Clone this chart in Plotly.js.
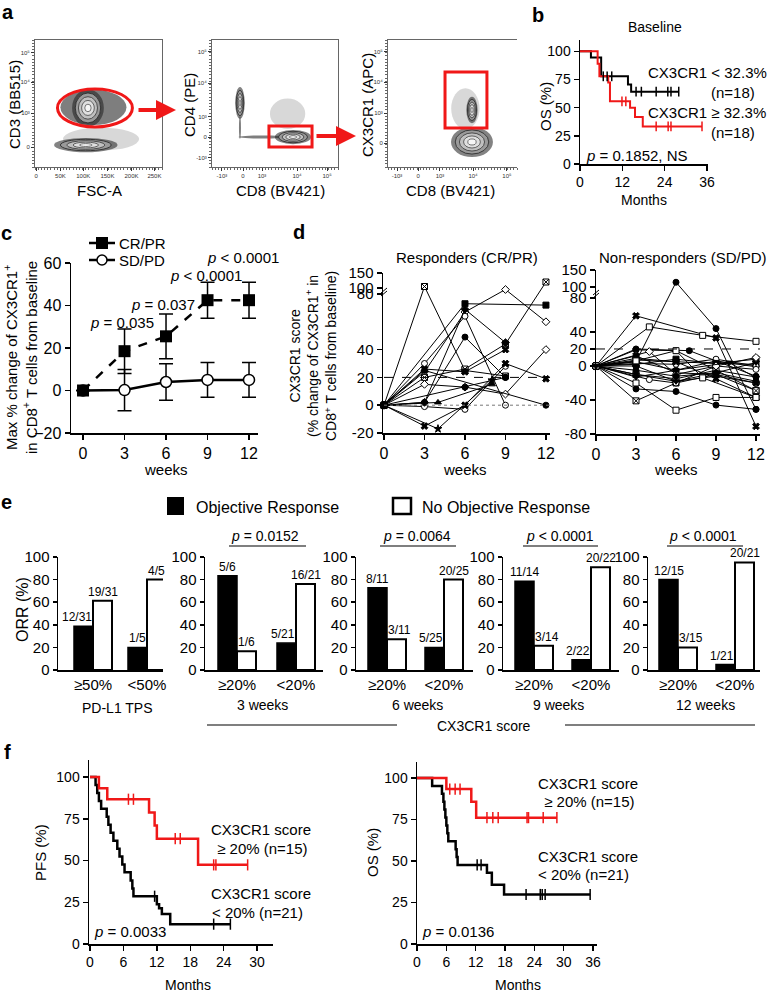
<!DOCTYPE html>
<html><head><meta charset="utf-8">
<script src="https://cdn.plot.ly/plotly-3.0.1.min.js"></script>
<style>html,body{margin:0;padding:0;background:#fff}#chart{width:770px;height:992px}</style>
</head><body><div id="chart"></div>
<script>
const W=770,H=992;
const FONT='Liberation Sans, Arial, sans-serif';
const RED='#f01818';

// ===== Panel b data (OS by baseline CX3CR1) =====
const bLowT=[0,3.1,6.0,13.6,14.5,28.0];
const bLowS=[100,94.4,77.8,70.6,64.2,64.2];
const bLowCensT=[6.6,7.7,9.0,15.9,17.4,21.6,24.9,25.8,28.0];
const bLowCensS=[77.8,77.8,77.8,64.2,64.2,64.2,64.2,64.2,64.2];
const bHighT=[0,5.0,5.5,8.0,8.5,14.2,15.6,17.8,34.6];
const bHighS=[100,88.9,77.8,72.2,55.6,50.0,41.7,33.3,33.3];
const bHighCensT=[11.9,13.0,21.6,25.0,25.8,34.6];
const bHighCensS=[55.6,55.6,33.3,33.3,33.3,33.3];

// ===== Panel c data =====
const cWeeks=[0,3,6,9,12];
const crMean=[0,18.5,25.5,42.5,42.5];
const crErr=[0,10.5,10.5,8.5,8.5];
const sdMean=[0,0.2,4,5,5];
const sdErr=[0,9.7,8.6,8.2,8.2];

// ===== Panel d data (CX3CR1 score per patient) =====
const respX=[[0,3,6,9],[0,6,12],[0,3,6,9,12],[0,3,6,9],[0,3,6,9],[0,3,6,9,12],[0,3,6,9],[0,3,6,9,12],[0,3,12],[0,4,8],[0,3,6,9],[0,3,6,9,12],[0,4,8],[0,3,6,9],[0,6,9]];
const respY=[[0,105,25,21],[0,73,72],[0,24,67,95,60],[0,30,64,0],[0,2,49,20],[0,20,26,44,120],[0,26,24,40],[0,15,13,8,40],[0,25,0],[0,2,15],[0,-1,-3,28],[0,-15,0,30,19],[0,-17,18],[0,2,69,45],[0,13,20]];
const respSym=['square-x','square','diamond','circle','circle','square-x','x','diamond','circle','triangle-up','circle','x','star','diamond','circle'];
const respFill=['w','k','w','w','k','w','k','w','k','k','w','k','k','k','k'];
const nonX=[[0,3,9,12],[0,4,8,12],[0,3,6,9,12],[0,3,6,9,12],[0,3,6,9,12],[0,3,6,9,12],[0,3,6,9,12],[0,3,6,9,12],[0,3,6,9,12],[0,3,6,9,12],[0,3,6,9,12],[0,3,6,9,12],[0,4,6,9,12],[0,3,6,9,12],[0,3,6,9,12],[0,3,7,12],[0,3,6,9,12],[0,3,6,9,12],[0,4,6,9,12],[0,3,6,9,12],[0,3,6,8,12],[0,3,6,10,12]];
const nonY=[[0,59,33,-71],[0,46,36,29],[0,5,114,44,-51],[0,-41,-20,-10,-29],[0,-27,-30,-46,-51],[0,-20,-52,-37,-37],[0,19,18,-5,-13],[0,9,5,3,2],[0,5,-5,6,-1],[0,0,-18,-12,-20],[0,-10,-15,-5,-29],[0,3,2,8,0],[0,-16,-20,0,-4],[0,12,-8,-10,-20],[0,-10,-18,-8,4],[0,20,18,-12],[0,7,5,-15,-37],[0,2,8,3,8],[0,17,-10,0,10],[0,-5,-12,-8,-18],[0,6,18,-14,-37],[0,-13,-5,4,-14]];
const nonSym=['x','square','circle','square-x','circle','square','circle','square','circle','diamond','square-x','circle','circle','x','triangle-down','circle','x','square','diamond','circle','square','triangle-down'];
const nonFill=['k','w','k','w','k','w','w','k','k','w','w','w','w','k','k','k','k','k','w','k','w','k'];
const dLeftTicks=[-20,0,20,40,80,100,150];
const dRightTicks=[-80,-40,0,20,40,80,100,150];

// ===== Panel e data (ORR) =====
const eGroups=['PD-L1 TPS','3 weeks','6 weeks','9 weeks','12 weeks'];
const eCatsTPS=['≥50%','<50%'];
const eCatsScore=['≥20%','<20%'];
const orNum=[[12,1],[5,5],[8,5],[11,2],[12,1]];
const noOrNum=[[19,4],[1,16],[3,20],[3,20],[3,20]];
const eDen=[[31,5],[6,21],[11,25],[14,22],[15,21]];
const ePvals=[null,'<i>p</i> = 0.0152','<i>p</i> = 0.0064','<i>p</i> < 0.0001','<i>p</i> < 0.0001'];

// ===== Panel f data =====
const pfsHighT=[0,1.6,3.1,10.6,11.6,12.0,19.4,28.3];
const pfsHighS=[100,93.3,86.7,78.8,71.0,63.1,47.4,47.4];
const pfsHighCensT=[6.9,7.8,15.3,16.2,22.2,22.6,28.3];
const pfsHighCensS=[86.7,86.7,63.1,63.1,47.4,47.4,47.4];
const pfsLowT=[0,1.0,1.3,1.6,2.0,3.0,3.3,3.7,4.2,4.9,5.3,5.8,6.2,7.3,7.6,7.8,12.0,12.4,12.9,14.4,25.2];
const pfsLowS=[100,95.2,90.5,85.7,81.0,76.2,71.4,66.7,61.9,57.1,52.4,47.6,42.9,38.1,33.3,28.6,23.8,21.4,17.9,11.9,11.9];
const pfsLowCensT=[11.6,22.2,25.2];
const pfsLowCensS=[28.6,11.9,11.9];
const osHighT=[0,6.0,11.1,12.1,28.6];
const osHighS=[100,93.3,85.6,76.1,76.1];
const osHighCensT=[6.7,7.8,8.8,14.3,15.5,16.6,22.5,22.8,25.8,28.6];
const osHighCensS=[93.3,93.3,93.3,76.1,76.1,76.1,76.1,76.1,76.1,76.1];
const osLowT=[0,3.1,5.1,5.4,5.6,5.8,6.0,6.2,6.4,7.9,8.1,8.3,14.3,15.3,17.8,35.4];
const osLowS=[100,95.2,90.5,85.7,81.0,76.2,71.4,66.7,61.9,57.1,52.4,47.6,42.9,35.7,29.8,29.8];
const osLowCensT=[12.3,13.1,22.3,25.2,25.6,26.2,35.4];
const osLowCensS=[47.6,47.6,29.8,29.8,29.8,29.8,29.8];

// ===== helpers =====
const ann=[],shp=[],traces=[];
function T(text,px,py,size,xa,extra){ann.push(Object.assign({text:text,x:px/W,y:1-py/H,xref:'paper',yref:'paper',showarrow:false,xanchor:xa||'center',yanchor:'middle',borderpad:0,font:{family:FONT,size:size||14,color:'#000'}},extra||{}));}
function L(x0,y0,x1,y1,color,width,dash){shp.push({type:'line',xref:'paper',yref:'paper',x0:x0/W,y0:1-y0/H,x1:x1/W,y1:1-y1/H,line:{color:color||'#000',width:width||1.5,dash:dash||'solid'}});}
function R(x0,y0,x1,y1,fill,lc,lw){shp.push({type:'rect',xref:'paper',yref:'paper',x0:x0/W,y0:1-y0/H,x1:x1/W,y1:1-y1/H,fillcolor:fill,line:{color:lc||fill,width:lw||0}});}
function C(cx,cy,r,fill,lc,lw){shp.push({type:'circle',xref:'paper',yref:'paper',x0:(cx-r)/W,x1:(cx+r)/W,y0:1-(cy+r)/H,y1:1-(cy-r)/H,fillcolor:fill,line:{color:lc,width:lw}});}
const layout={width:W,height:H,margin:{l:0,r:0,t:0,b:0},paper_bgcolor:'#fff',plot_bgcolor:'rgba(0,0,0,0)',showlegend:false,barmode:'overlay',font:{family:FONT,size:14,color:'#000'},annotations:ann,shapes:shp};
function base(fs){return {showline:true,linecolor:'#000',linewidth:1.5,ticks:'outside',ticklen:5,tickwidth:1.5,tickcolor:'#000',showgrid:false,zeroline:false,fixedrange:true,tickfont:{family:FONT,size:fs||14,color:'#000'}};}
function setAx(n,xd,yd,xr,yr,xe,ye,fs){const s=n===1?'':String(n);
  layout['xaxis'+s]=Object.assign(base(fs),{domain:[xd[0]/W,xd[1]/W],range:xr,anchor:'y'+s},xe||{});
  layout['yaxis'+s]=Object.assign(base(fs),{domain:[1-yd[1]/H,1-yd[0]/H],range:yr,anchor:'x'+s},ye||{});
  return s;}
function xa(s){return 'x'+s;} function ya(s){return 'y'+s;}
function censor(x,y,color,size,s){return {type:'scatter',x:x,y:y,mode:'markers',marker:{symbol:'line-ns-open',size:size,color:color,line:{color:color,width:1.5}},xaxis:xa(s),yaxis:ya(s),cliponaxis:false};}
function km(x,y,color,width,s){return {type:'scatter',x:x,y:y,mode:'lines',line:{shape:'hv',color:color,width:width},xaxis:xa(s),yaxis:ya(s),cliponaxis:false};}

// ===== Panel a: flow cytometry frames =====
const flowFrames=[[35,162],[212,338],[388,517]];
const flowXTicks=[[['0','50K','100K','150K','200K','250K'],[0.01,0.2,0.38,0.57,0.76,0.94]],[['-10³','0','10³','10⁴','10⁵'],[0.079,0.246,0.397,0.675,0.913]],[['-10³','0','10³','10⁴','10⁵'],[0.07,0.233,0.403,0.659,0.922]]];
const flowYTicks=[[['0','10³','10⁴','10⁵'],[0.157,0.425,0.669,0.898]],[['-10³','0','10³','10⁴','10⁵'],[0.071,0.236,0.394,0.661,0.906]],[['0','10³','10⁴','10⁵'],[0.189,0.425,0.669,0.906]]];
for(let i=0;i<3;i++){
  const s=setAx(i+1,flowFrames[i],[40,167],[0,1],[0,1],
    {mirror:true,linecolor:'#666',linewidth:1,ticklen:3,tickwidth:1,tickcolor:'#333',tickmode:'array',ticktext:flowXTicks[i][0],tickvals:flowXTicks[i][1],tickfont:{family:FONT,size:6,color:'#333'},minor:{ticks:'outside',ticklen:2,tickcolor:'#666',dtick:0.025,tick0:0}},
    {mirror:i<2,linecolor:'#666',linewidth:1,ticklen:3,tickwidth:1,tickcolor:'#333',tickmode:'array',ticktext:flowYTicks[i][0],tickvals:flowYTicks[i][1],tickfont:{family:FONT,size:6,color:'#333'},minor:{ticks:'outside',ticklen:2,tickcolor:'#666',dtick:0.025,tick0:0}});
  traces.push({type:'scatter',x:[null],y:[null],xaxis:xa(s),yaxis:ya(s),mode:'markers',hoverinfo:'skip'});
}
// population sketches [plot, cx, cy, rx, ry, kind]
const flowPops=[[1,0.46,0.47,0.26,0.14,'cloud'],[1,0.52,0.22,0.30,0.09,'haze'],[1,0.417,0.465,0.10,0.118,'rings'],[1,0.40,0.173,0.20,0.045,'rings'],
 [2,0.60,0.42,0.14,0.12,'haze'],[2,0.222,0.504,0.03,0.10,'rings'],[2,0.40,0.236,0.19,0.012,'cloud'],[2,0.222,0.31,0.008,0.09,'cloud'],[2,0.643,0.236,0.115,0.045,'rings'],
 [3,0.60,0.46,0.11,0.16,'haze'],[3,0.651,0.449,0.035,0.083,'rings'],[3,0.651,0.197,0.13,0.095,'rings']];
flowPops.forEach(p=>{const s=p[0]===1?'':String(p[0]);
  const ell=(k,fill,lc,lw)=>shp.push({type:'circle',xref:xa(s),yref:ya(s),x0:p[1]-p[3]*k,x1:p[1]+p[3]*k,y0:p[2]-p[4]*k,y1:p[2]+p[4]*k,fillcolor:fill,line:{color:lc,width:lw}});
  if(p[5]==='cloud') ell(1,'rgba(20,20,20,0.55)','rgba(0,0,0,0)',0);
  else if(p[5]==='haze') ell(1,'rgba(60,60,60,0.2)','rgba(0,0,0,0)',0);
  else {ell(1.25,'rgba(30,30,30,0.55)','rgba(0,0,0,0)',0);ell(1,'#9a9a9a','#222',0.8);ell(0.75,'#c0c0c0','#333',0.8);ell(0.5,'#e0e0e0','#444',0.8);ell(0.25,'#f6f6f6','#555',0.8);}
});
// gates
shp.push({type:'circle',xref:'x',yref:'y',x0:0.177,x1:0.767,y0:0.315,y1:0.615,line:{color:RED,width:3}});
shp.push({type:'rect',xref:'x2',yref:'y2',x0:0.452,x1:0.794,y0:0.157,y1:0.323,line:{color:RED,width:3}});
shp.push({type:'rect',xref:'x3',yref:'y3',x0:0.442,x1:0.767,y0:0.307,y1:0.748,line:{color:RED,width:3}});
ann.push({text:'',x:176/W,y:1-110/H,ax:137/W,ay:1-110/H,xref:'paper',yref:'paper',axref:'paper',ayref:'paper',showarrow:true,arrowhead:2,arrowsize:1,arrowwidth:4,arrowcolor:RED});
ann.push({text:'',x:356/W,y:1-136/H,ax:315/W,ay:1-136/H,xref:'paper',yref:'paper',axref:'paper',ayref:'paper',showarrow:true,arrowhead:2,arrowsize:1,arrowwidth:4,arrowcolor:RED});
T('CD3 (BB515)',15,105,15,'center',{textangle:-90});
T('FSC-A',100,190,15);
T('CD4 (PE)',190,105,15,'center',{textangle:-90});
T('CD8 (BV421)',280,190,15);
T('CX3CR1 (APC)',368,105,15,'center',{textangle:-90});
T('CD8 (BV421)',450,190,15);

// ===== Panel b =====
{const s=setAx(4,[580,708],[40,164],[0,36.3],[0,110],{tickvals:[0,12,24,36]},{tickvals:[0,25,50,75,100]},14);
 traces.push(km(bLowT,bLowS,'#000',2,s));
 traces.push(km(bHighT,bHighS,RED,2,s));
 traces.push(censor(bLowCensT,bLowCensS,'#000',7,s));
 traces.push(censor(bHighCensT,bHighCensS,RED,7,s));
}
T('Baseline',655,27,14);
T('CX3CR1 &lt; 32.3%',647,72,15,'left');
T('(n=18)',710,92,15,'left');
T('CX3CR1 ≥ 32.3%',647,112,15,'left');
T('(n=18)',710,132,15,'left');
T('<i>p</i> = 0.1852, NS',585,155,15,'left');
T('OS (%)',545,107,15,'center',{textangle:-90});
T('Months',644,200,14);

// ===== Panel c =====
{const s=setAx(5,[71,258],[263,433],[-0.87,12.65],[-20,60],{tickvals:cWeeks},{tickvals:[-20,0,20,40,60]},16);
 traces.push({type:'scatter',x:cWeeks,y:sdMean,mode:'lines+markers',line:{color:'#000',width:2.5},marker:{symbol:'circle',size:11,color:'#fff',line:{color:'#000',width:1.5}},error_y:{type:'data',array:sdErr,color:'#000',thickness:1.5,width:7},xaxis:xa(s),yaxis:ya(s),cliponaxis:false});
 traces.push({type:'scatter',x:cWeeks,y:crMean,mode:'lines+markers',line:{color:'#000',width:2.5,dash:'dash'},marker:{symbol:'square',size:12,color:'#000'},error_y:{type:'data',array:crErr,color:'#000',thickness:1.5,width:7},xaxis:xa(s),yaxis:ya(s),cliponaxis:false});
}
L(89,243,115,243,'#000',2.5,'dash'); R(96,237,108,249,'#000');
T('CR/PR',118,243,15,'left');
L(89,260,115,260,'#000',2.5); C(102,260,5,'#fff','#000',1.5);
T('SD/PD',118,260,15,'left');
T('<i>p</i> = 0.035',122,322,15);
T('<i>p</i> = 0.037',163,305,15);
T('<i>p</i> &lt; 0.0001',206,275,15);
T('<i>p</i> &lt; 0.0001',243,258,15);
T('Max % change of CX3CR1<sup>+</sup><br>in CD8<sup>+</sup> T cells from baseline',21,358,15,'center',{textangle:-90});
T('weeks',166,469,15);

// ===== Panel d =====
function tL(v){return v<=80?v:(v<=100?80+(v-80)*0.215:84.3+(v-100)*0.216);}
function tR(v){return v<=80?v:(v<=100?80+(v-80)*0.645:92.9+(v-100)*0.4);}
{const s=setAx(6,[383,550],[273,433],[-0.074,12.3],[-20,tL(150)],{tickvals:[0,3,6,9,12]},{tickmode:'array',tickvals:dLeftTicks.map(tL),ticktext:dLeftTicks.map(String),tickfont:{family:FONT,size:15,color:'#000'}},16);
 shp.push({type:'line',xref:xa(s),yref:ya(s),x0:0,x1:12.3,y0:20,y1:20,line:{color:'#000',width:1,dash:'dash'}});
 shp.push({type:'line',xref:xa(s),yref:ya(s),x0:0,x1:12.3,y0:0,y1:0,line:{color:'#777',width:1,dash:'dot'}});
 respX.forEach((xs,i)=>traces.push({type:'scatter',x:xs,y:respY[i].map(tL),mode:'lines+markers',line:{color:'#000',width:1},marker:{symbol:respSym[i],size:6,color:respFill[i]==='w'?'#fff':'#000',line:{color:'#000',width:1}},xaxis:xa(s),yaxis:ya(s),cliponaxis:false}));
}
{const s=setAx(7,[596,760],[270,434],[0,12.3],[-80,tR(150)],{tickvals:[0,3,6,9,12]},{tickmode:'array',tickvals:dRightTicks.map(tR),ticktext:dRightTicks.map(String),tickfont:{family:FONT,size:15,color:'#000'}},16);
 shp.push({type:'line',xref:xa(s),yref:ya(s),x0:0,x1:12.3,y0:20,y1:20,line:{color:'#000',width:1,dash:'dash'}});
 nonX.forEach((xs,i)=>traces.push({type:'scatter',x:xs,y:nonY[i].map(tR),mode:'lines+markers',line:{color:'#000',width:1},marker:{symbol:nonSym[i],size:6,color:nonFill[i]==='w'?'#fff':'#000',line:{color:'#000',width:1}},xaxis:xa(s),yaxis:ya(s),cliponaxis:false}));
}
// axis break marks
L(381,293,387,288,'#000',1); L(381,296,387,291,'#000',1);
L(593,295,599,290,'#000',1); L(593,298,599,293,'#000',1);
T('Responders (CR/PR)',467,258,15);
T('Non-responders (SD/PD)',683,258,15);
T('CX3CR1 score<br>(% change of CX3CR1<sup>+</sup> in<br>CD8<sup>+</sup> T cells from baseline)',313,356,14,'center',{textangle:-90});
T('weeks',465,469,15); T('weeks',676,469,15);

// ===== Panel e =====
const eGeom=[[58,163,93,147],[205,323,237,296],[356,473,387,444],[503,619,534,591],[648,760,678,735]];
for(let i=0;i<5;i++){
  const g=eGeom[i], ppu=g[3]-g[2], w=19/ppu;
  const s=setAx(8+i,[g[0],g[1]],[557,670],[-(g[2]-g[0])/ppu,1+(g[1]-g[3])/ppu],[0,100],
    {tickmode:'array',tickvals:[0,1],ticktext:i===0?eCatsTPS:eCatsScore,ticks:''},{tickvals:[0,20,40,60,80,100],ticklen:4},15);
  const orPct=orNum[i].map((v,k)=>v/eDen[i][k]*100);
  const noPct=noOrNum[i].map((v,k)=>v/eDen[i][k]*100);
  traces.push({type:'bar',x:[0,1],y:orPct,width:[w,w],offset:[-w,-w],marker:{color:'#000',line:{color:'#000',width:1.5}},xaxis:xa(s),yaxis:ya(s)});
  traces.push({type:'bar',x:[0,1],y:noPct,width:[w,w],offset:[0,0],marker:{color:'#fff',line:{color:'#000',width:2}},xaxis:xa(s),yaxis:ya(s)});
  [0,1].forEach(k=>{
    const whiteTaller=noPct[k]>orPct[k];
    ann.push({text:orNum[i][k]+'/'+eDen[i][k],xref:xa(s),yref:ya(s),x:whiteTaller?k:k-w/2,y:orPct[k],xanchor:whiteTaller?'right':'center',yanchor:'bottom',yshift:1,showarrow:false,borderpad:0,font:{family:FONT,size:12,color:'#000'}});
    ann.push({text:noOrNum[i][k]+'/'+eDen[i][k],xref:xa(s),yref:ya(s),x:whiteTaller?k+w/2:k,y:noPct[k],xanchor:whiteTaller?'center':'left',yanchor:'bottom',yshift:1,showarrow:false,borderpad:0,font:{family:FONT,size:12,color:'#000'}});
  });
}
const ePCenters=[null,[265,229,306],[417,380,456],[560,523,598],[703,667,743]];
for(let i=1;i<5;i++){T(ePvals[i],ePCenters[i][0],536,14); L(ePCenters[i][1],546,ePCenters[i][2],546,'#555',1.5);}
R(167,497,184,515,'#000');
T('Objective Response',195,507,16,'left');
R(393,498,411,514,'#fff','#000',2.5);
T('No Objective Response',421,507,16,'left');
T('ORR (%)',22,610,16,'center',{textangle:-90});
const eLabX=[117,262,417,558,705];
eGroups.forEach((g,i)=>T(g,eLabX[i],i===0?708:705,14));
L(207,725,397,725,'#555',1.5); L(565,725,755,725,'#555',1.5);
T('CX3CR1 score',484,726,14);

// ===== Panel f =====
{const s=setAx(13,[89,273],[760,944],[-0.18,32.85],[0,110.2],{tickvals:[0,6,12,18,24,30]},{tickvals:[0,25,50,75,100]},14);
 traces.push(km(pfsLowT,pfsLowS,'#000',2.5,s));
 traces.push(km(pfsHighT,pfsHighS,RED,2.5,s));
 traces.push(censor(pfsLowCensT,pfsLowCensS,'#000',8,s));
 traces.push(censor(pfsHighCensT,pfsHighCensS,RED,8,s));
}
{const s=setAx(14,[417,597],[762,944],[0,36.8],[0,109.6],{tickvals:[0,6,12,18,24,30,36]},{tickvals:[0,25,50,75,100]},14);
 traces.push(km(osLowT,osLowS,'#000',2.5,s));
 traces.push(km(osHighT,osHighS,RED,2.5,s));
 traces.push(censor(osLowCensT,osLowCensS,'#000',8,s));
 traces.push(censor(osHighCensT,osHighCensS,RED,8,s));
}
T('CX3CR1 score',210,829,15,'left'); T(' ≥ 20% (n=15)',212,848,15,'left');
T('CX3CR1 score',210,893,15,'left'); T('&lt; 20% (n=21)',211,912,15,'left');
T('CX3CR1 score',537,783,15,'left'); T(' ≥ 20% (n=15)',539,801,15,'left');
T('CX3CR1 score',537,856,15,'left'); T('&lt; 20% (n=21)',537,874,15,'left');
T('<i>p</i> = 0.0033',93,931,15,'left');
T('<i>p</i> = 0.0136',421,931,15,'left');
T('PFS (%)',40,853,15,'center',{textangle:-90});
T('OS (%)',372,853,15,'center',{textangle:-90});
T('Months',188,985,14); T('Months',518,985,14);

// panel letters
[['a',8,12],['b',538,15],['c',6,233],['d',299,232],['e',6,502],['f',7,752]].forEach(p=>T('<b>'+p[0]+'</b>',p[1],p[2],20));

Plotly.newPlot('chart',traces,layout,{staticPlot:true,displayModeBar:false});
</script></body></html>
